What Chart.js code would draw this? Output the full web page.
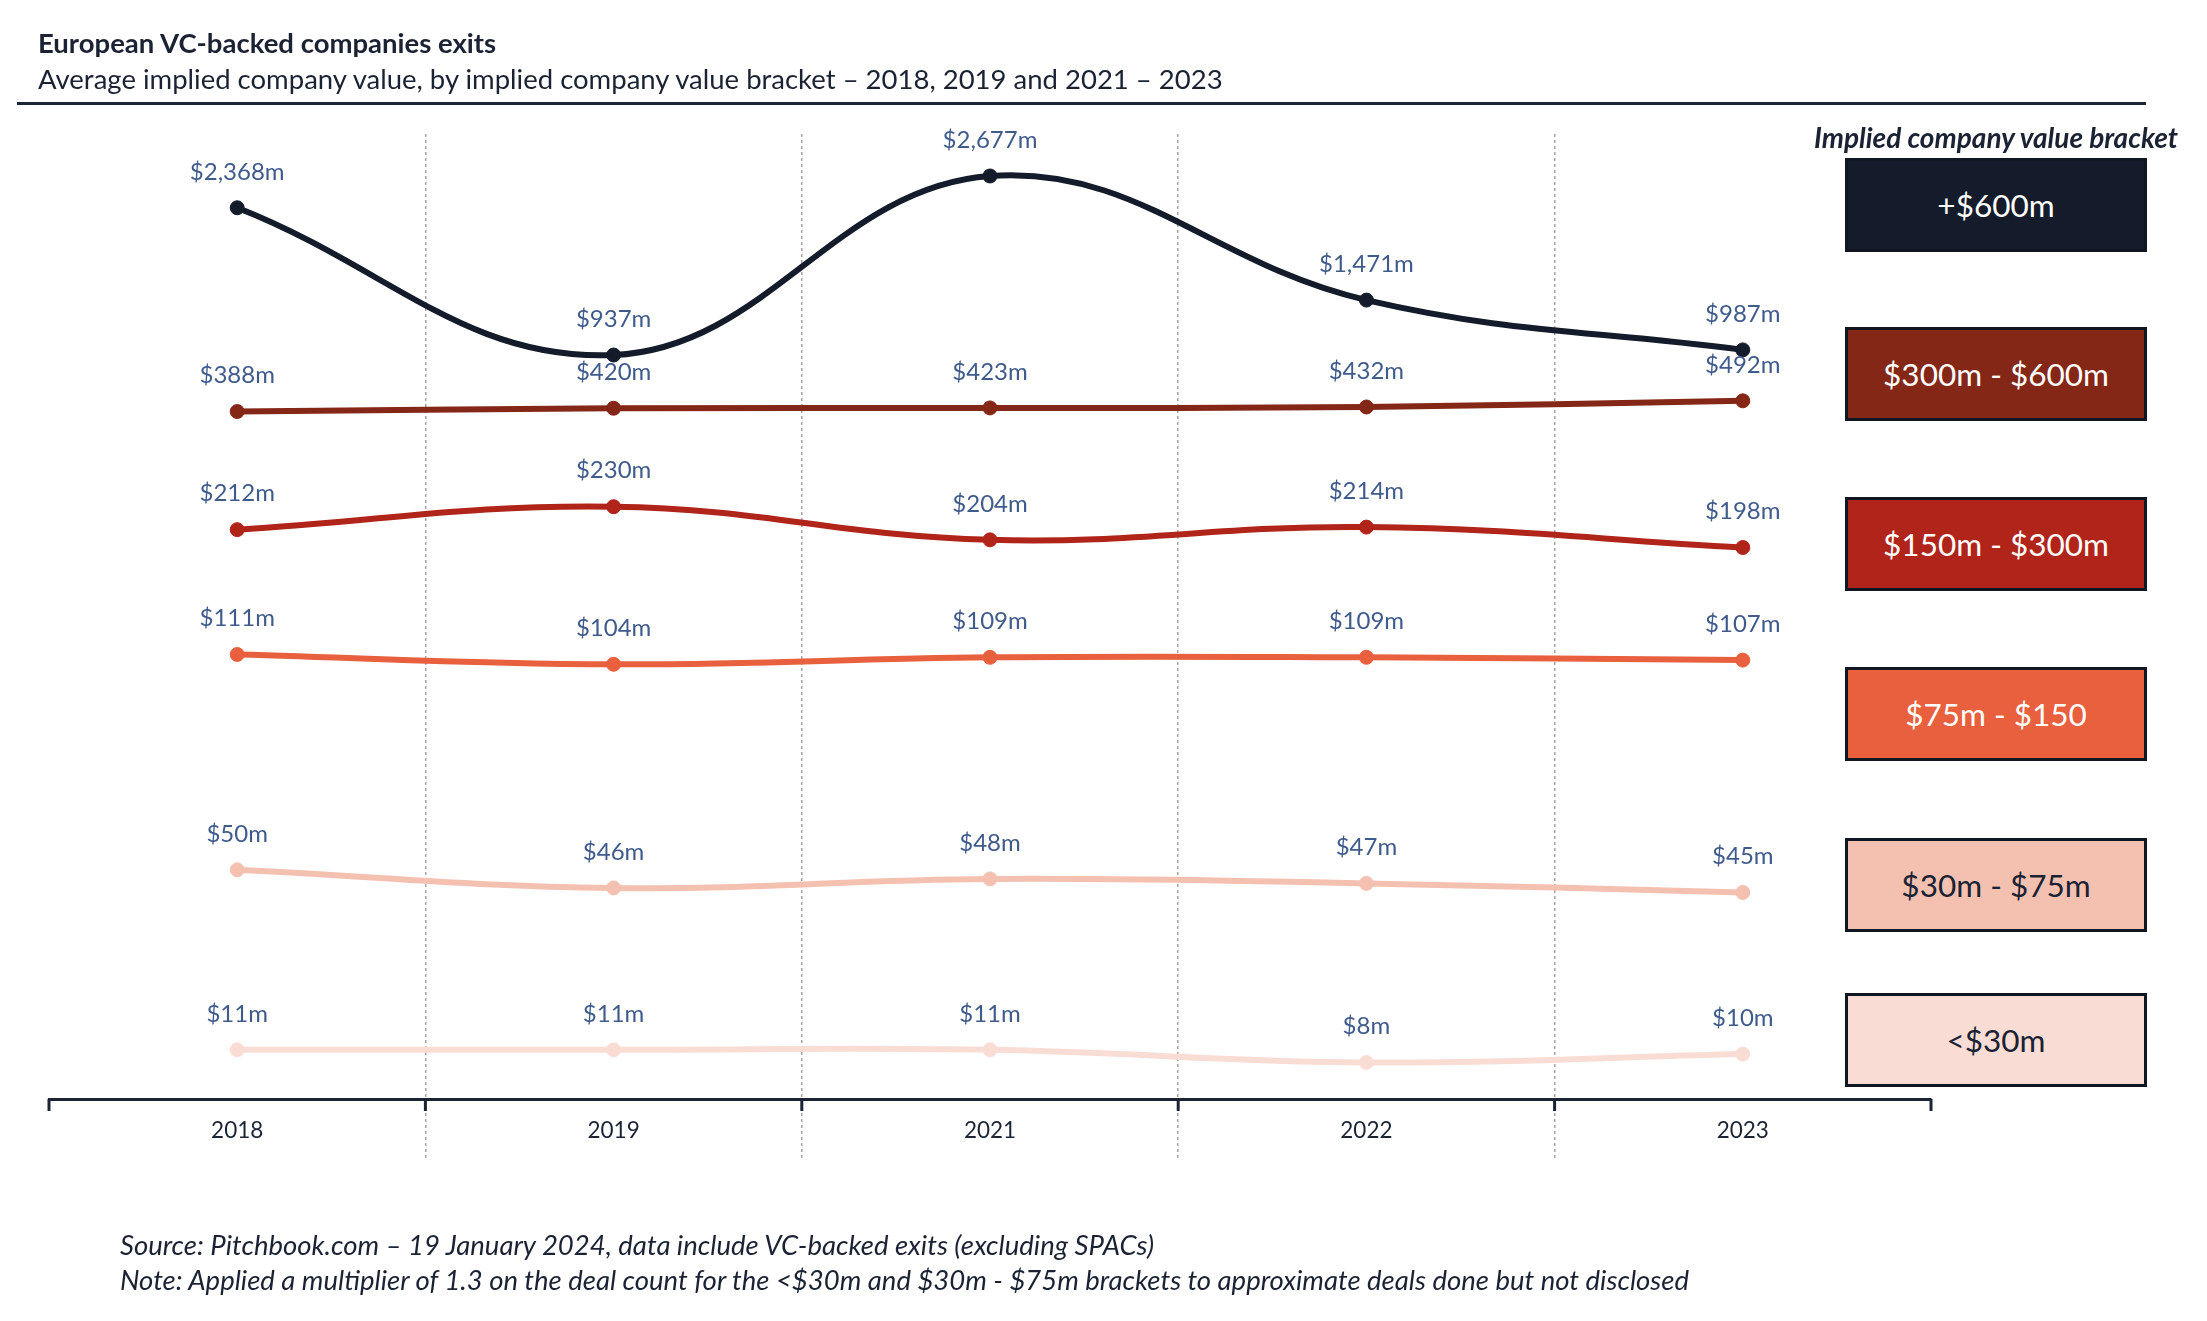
<!DOCTYPE html>
<html>
<head>
<meta charset="utf-8">
<script src="https://cdn.jsdelivr.net/npm/chart.js@4.4.1/dist/chart.umd.min.js"></script>
<style>
  body { margin: 0; background: #fff; font-family: Lato, "Open Sans", sans-serif; color: #1a2233; }
  #wrap { position: relative; width: 2207px; height: 1321px; overflow: hidden; }
  #chart { position: absolute; left: 0; top: 0; }
  .txt { position: absolute; white-space: nowrap; transform: translateY(-50%); }
  #title { left: 38px; top: 42px; font-size: 27.5px; font-weight: 700; }
  #subtitle { left: 38px; top: 78px; font-size: 27.5px; }
  #rule { position: absolute; left: 17px; top: 102px; width: 2129px; height: 3px; background: #1d2433; }
  #legendTitle { left: 1996px; top: 137px; transform: translate(-50%, -50%); font-size: 28px; font-weight: 700; font-style: italic; }
  .box { position: absolute; left: 1845px; width: 296px; height: 88px; border: 3px solid #111722;
         display: flex; align-items: center; justify-content: center; font-size: 31.5px; }
  .foot { left: 120px; font-size: 27.5px; font-style: italic; }
</style>
</head>
<body>
<div id="wrap">
  <canvas id="chart" width="2207" height="1321"></canvas>
  <div class="txt" id="title">European VC-backed companies exits</div>
  <div class="txt" id="subtitle">Average implied company value, by implied company value bracket – 2018, 2019 and 2021 – 2023</div>
  <div id="rule"></div>
  <div class="txt" id="legendTitle">Implied company value bracket</div>
  <div id="legend"></div>
  <div class="txt foot" style="top:1244px">Source: Pitchbook.com – 19 January 2024, data include VC-backed exits (excluding SPACs)</div>
  <div class="txt foot" style="top:1279px">Note: Applied a multiplier of 1.3 on the deal count for the &lt;$30m and $30m - $75m brackets to approximate deals done but not disclosed</div>
</div>
<script>
// Data
const years = ['2018', '2019', '2021', '2022', '2023'];
const brackets = ['+$600m', '$300m - $600m', '$150m - $300m', '$75m - $150', '$30m - $75m', '<$30m'];
const over600 = [2368, 937, 2677, 1471, 987];
const from300to600 = [388, 420, 423, 432, 492];
const from150to300 = [212, 230, 204, 214, 198];
const from75to150 = [111, 104, 109, 109, 107];
const from30to75 = [50, 46, 48, 47, 45];
const under30 = [11, 11, 11, 8, 10];

const colors = ['#141c2b', '#852716', '#b1241a', '#e8603e', '#f4c1b1', '#f9ddd5'];
const legendText = ['#fff', '#fff', '#fff', '#fff', '#1a2233', '#1a2233'];
const boxTops = [158, 327, 497, 667, 838, 993];

// Legend boxes (HTML)
const legend = document.getElementById('legend');
brackets.forEach((name, i) => {
  const div = document.createElement('div');
  div.className = 'box';
  div.style.top = boxTops[i] + 'px';
  div.style.background = colors[i];
  div.style.color = legendText[i];
  div.textContent = name;
  legend.appendChild(div);
});

const fmt = (v) => '$' + v.toLocaleString('en-US') + 'm';

const makeSet = (data, i, axis) => ({
  label: brackets[i],
  data: data,
  yAxisID: axis,
  borderColor: colors[i],
  backgroundColor: colors[i],
  pointBackgroundColor: colors[i],
  pointBorderColor: colors[i],
  borderWidth: 6,
  pointRadius: 7,
  pointBorderWidth: 1,
  tension: 0.4,
});

// draws value labels above points and the short solid ticks on the axis
const extras = {
  id: 'extras',
  afterDatasetsDraw(chart) {
    const ctx = chart.ctx;
    ctx.save();
    ctx.font = '24px Lato, "Open Sans", sans-serif';
    ctx.fillStyle = '#3f5b8c';
    ctx.textAlign = 'center';
    ctx.textBaseline = 'middle';
    chart.data.datasets.forEach((ds, d) => {
      chart.getDatasetMeta(d).data.forEach((pt, j) => {
        ctx.fillText(fmt(ds.data[j]), pt.x, pt.y - 36);
      });
    });
    const x = chart.scales.x;
    const step = x.width / years.length;
    ctx.strokeStyle = '#1b2435';
    ctx.lineWidth = 3;
    for (let i = 0; i <= years.length; i++) {
      const px = x.left + i * step;
      ctx.beginPath();
      ctx.moveTo(px, x.top);
      ctx.lineTo(px, x.top + 12);
      ctx.stroke();
    }
    ctx.restore();
  },
};

const gridColor = (c) => (c.type !== 'tick' || c.index === 0 ? 'rgba(0,0,0,0)' : '#a3a3a3');

new Chart(document.getElementById('chart'), {
  type: 'line',
  data: {
    labels: years,
    datasets: [
      makeSet(over600, 0, 'yTop'),
      makeSet(from300to600, 1, 'yTop'),
      makeSet(from150to300, 2, 'y150'),
      makeSet(from75to150, 3, 'y75'),
      makeSet(from30to75, 4, 'y30'),
      makeSet(under30, 5, 'y0'),
    ],
  },
  options: {
    responsive: false,
    animation: false,
    layout: { padding: { left: 49, right: 276, top: 134, bottom: 162 } },
    plugins: { legend: { display: false }, tooltip: { enabled: false } },
    scales: {
      x: {
        offset: true,
        grid: {
          offset: true,
          color: gridColor,
          lineWidth: 1.5,
          tickLength: 59,
          tickColor: gridColor,
          tickWidth: 1.5,
          tickBorderDash: [3, 3],
        },
        border: { display: true, color: '#1b2435', width: 3, dash: [3, 3] },
        ticks: { padding: -41, color: '#1b2435', font: { family: 'Lato', size: 22.5 } },
        afterFit: (s) => { s.height = 60; },
      },
      yTop: { display: false, min: -6293, max: 3085 },
      y150: { display: false, min: -234.5, max: 522.3 },
      y75: { display: false, min: -206.5, max: 482.8 },
      y30: { display: false, min: -0.7, max: 212.8 },
      y0: { display: false, min: -0.7, max: 229 },
    },
  },
  plugins: [extras],
});
</script>
</body>
</html>
